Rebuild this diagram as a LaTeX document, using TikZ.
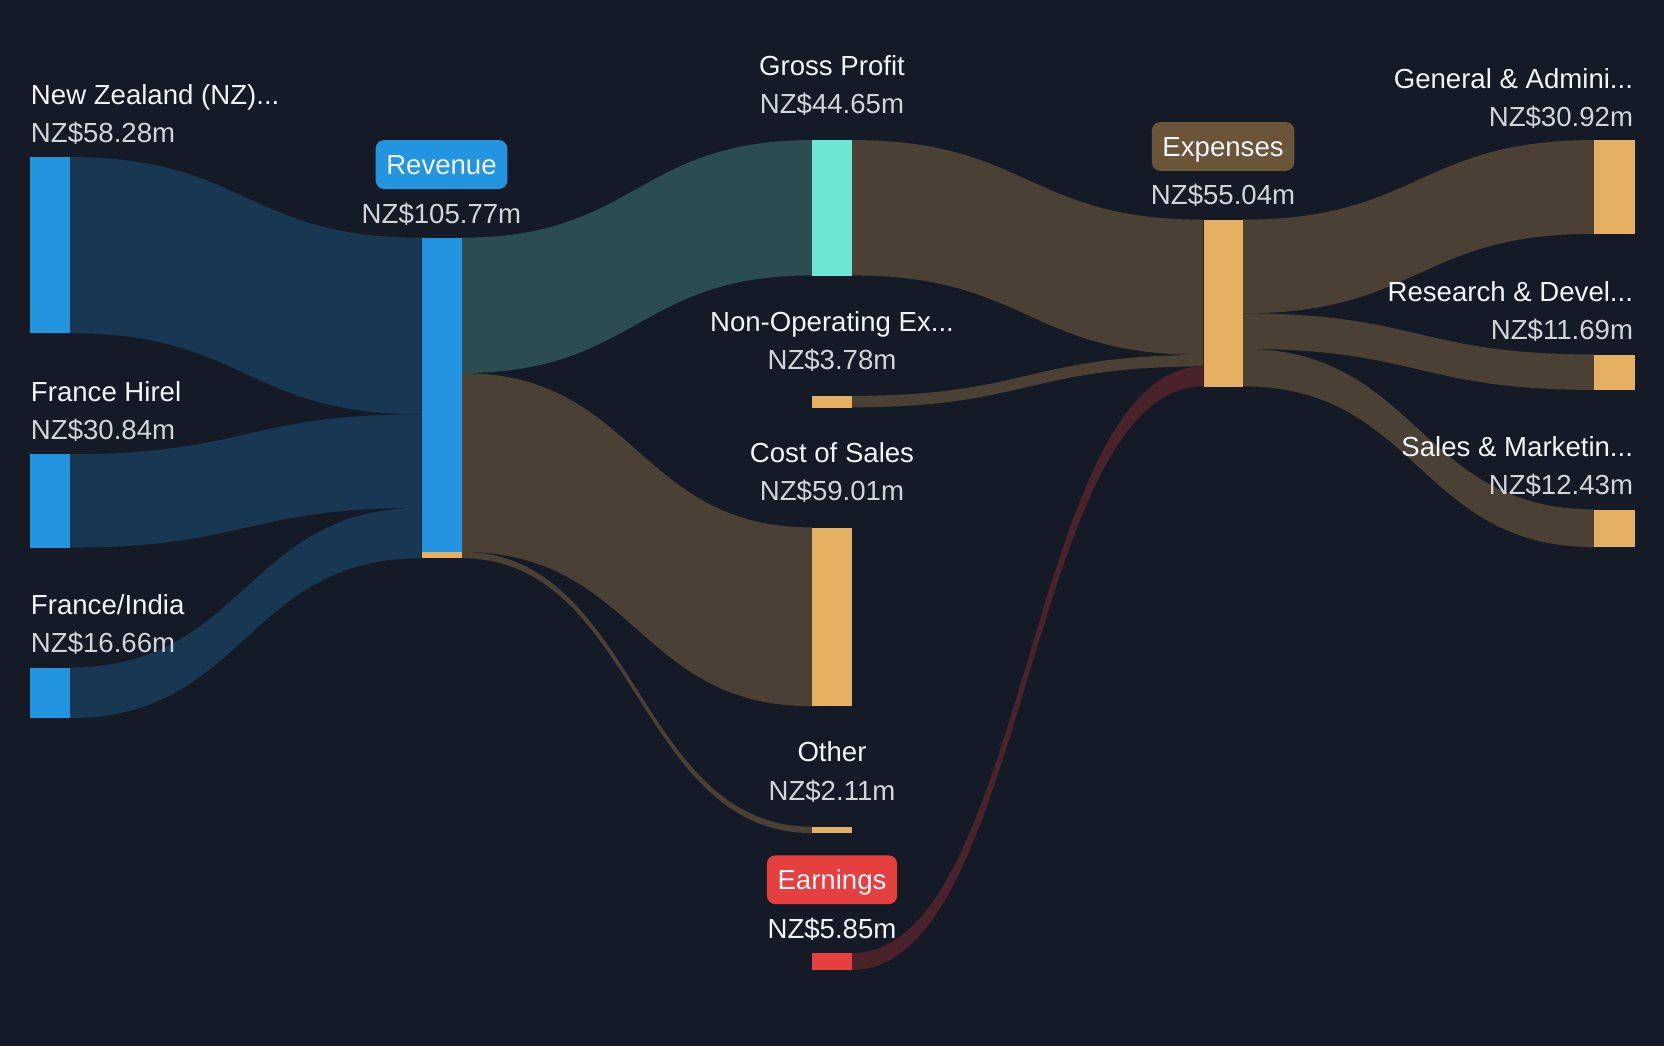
\documentclass[tikz,border=0pt]{standalone}
\usepackage{fontspec}
\setmainfont{Liberation Sans}
\definecolor{bg}{HTML}{151B26}
\definecolor{cblue}{HTML}{2394DF}
\definecolor{cteal}{HTML}{6EE6D4}
\definecolor{ctan}{HTML}{E5B062}
\definecolor{cred}{HTML}{E5403F}
\definecolor{cbrown}{HTML}{6B5539}
\definecolor{fblue}{HTML}{173752}
\definecolor{fteal}{HTML}{2C4D50}
\definecolor{ftan}{HTML}{4A4033}
\definecolor{fred}{HTML}{4A2229}
\definecolor{tname}{HTML}{F2F5FA}
\definecolor{tval}{HTML}{D2D5DA}
\newcommand\sflow[7]{%
  \pgfmathsetmacro\xm{(#1+#4)/2}%
  \fill[#7] (#1,#2) .. controls (\xm,#2) and (\xm,#5) .. (#4,#5) -- (#4,#6) .. controls (\xm,#6) and (\xm,#3) .. (#1,#3) -- cycle;}
\tikzset{
  bar/.style={rectangle, inner sep=0pt, minimum width=38pt, anchor=north west, draw=none},
  nm/.style={text=tname, inner sep=0pt},
  val/.style={text=tval, inner sep=0pt},
  pill/.style={rectangle, rounded corners=8pt, text=tname, minimum height=46pt, inner xsep=10pt, inner ysep=0pt, text height=18.5pt, text depth=0pt}
}
\begin{document}
\begin{tikzpicture}[x=1pt,y=-1pt,font=\fontsize{26}{30}\selectfont]
\fill[bg] (0,0) rectangle (1568,986);
\useasboundingbox (0,0) rectangle (1568,986);
% flows
\sflow{66}{148}{314}{397}{224}{390.4}{fblue}
\sflow{66}{428}{516}{397}{390.4}{478.5}{fblue}
\sflow{66}{629}{676.6}{397}{478.5}{526}{fblue}
\sflow{435}{224}{351.5}{765}{132}{259.5}{fteal}
\sflow{435}{351.5}{520}{765}{497}{665.5}{ftan}
\sflow{435}{520}{526}{765}{779}{785}{ftan}
\sflow{803}{132}{259.5}{1134}{207}{334.5}{ftan}
\sflow{803}{373}{383.8}{1134}{334.5}{345.3}{ftan}
\sflow{803}{898}{914}{1134}{345.3}{364}{fred}
\sflow{1171}{207}{295.3}{1502}{132}{220.3}{ftan}
\sflow{1171}{295.3}{328.7}{1502}{334}{367.4}{ftan}
\sflow{1171}{328.7}{364}{1502}{480}{515.5}{ftan}
% bars
\node[bar, fill=cblue, minimum height=166pt] (nz) at (28,148) {};
\node[bar, fill=cblue, minimum height=88pt] (fh) at (28,428) {};
\node[bar, fill=cblue, minimum height=47.6pt] (fi) at (28,629) {};
\node[bar, fill=cblue, minimum height=296pt] (rev) at (397,224) {};
\node[bar, fill=ctan, minimum height=6pt] (revo) at (397,520) {};
\node[bar, fill=cteal, minimum height=127.5pt] (gp) at (765,132) {};
\node[bar, fill=ctan, minimum height=10.8pt] (nonop) at (765,373) {};
\node[bar, fill=ctan, minimum height=168.5pt] (cos) at (765,497) {};
\node[bar, fill=ctan, minimum height=6pt] (oth) at (765,779) {};
\node[bar, fill=cred, minimum height=16pt] (earn) at (765,898) {};
\node[bar, fill=ctan, minimum height=157pt, minimum width=37pt] (exp) at (1134,207) {};
\node[bar, fill=ctan, minimum height=88.3pt] (ga) at (1502,132) {};
\node[bar, fill=ctan, minimum height=33.4pt] (rd) at (1502,334) {};
\node[bar, fill=ctan, minimum height=35.5pt] (sm) at (1502,480) {};
% left labels
\node[nm, anchor=base west] (nzn) at (29,98) {New Zealand (NZ)...};
\node[val, anchor=base west] (nzv) at (29,134) {NZ\$58.28m};
\node[nm, anchor=base west] (fhn) at (29,378) {France Hirel};
\node[val, anchor=base west] (fhv) at (29,414) {NZ\$30.84m};
\node[nm, anchor=base west] (fin) at (29,579) {France/India};
\node[val, anchor=base west] (fiv) at (29,615) {NZ\$16.66m};
% revenue
\node[pill, fill=cblue] (revl) at (416,155) {Revenue};
\node[val, anchor=base] (revv) at (416,211) {NZ\$105.77m};
% middle column
\node[nm, anchor=base] (gpn) at (784,71) {Gross Profit};
\node[val, anchor=base] (gpv) at (784,107) {NZ\$44.65m};
\node[nm, anchor=base] (nonn) at (784,312) {Non-Operating Ex...};
\node[val, anchor=base] (nonv) at (784,348) {NZ\$3.78m};
\node[nm, anchor=base] (cosn) at (784,436) {Cost of Sales};
\node[val, anchor=base] (cosv) at (784,472) {NZ\$59.01m};
\node[nm, anchor=base] (othn) at (784,718) {Other};
\node[val, anchor=base] (othv) at (784,754) {NZ\$2.11m};
\node[pill, fill=cred] (earnl) at (784,829) {Earnings};
\node[nm, anchor=base] (earnv) at (784,884) {NZ\$5.85m};
% expenses
\node[pill, fill=cbrown] (expl) at (1152.5,138) {Expenses};
\node[val, anchor=base] (expv) at (1152.5,193) {NZ\$55.04m};
% right labels
\node[nm, anchor=base east] (gan) at (1539,83) {General \& Admini...};
\node[val, anchor=base east] (gav) at (1539,119) {NZ\$30.92m};
\node[nm, anchor=base east] (rdn) at (1539,284) {Research \& Devel...};
\node[val, anchor=base east] (rdv) at (1539,320) {NZ\$11.69m};
\node[nm, anchor=base east] (smn) at (1539,430) {Sales \& Marketin...};
\node[val, anchor=base east] (smv) at (1539,466) {NZ\$12.43m};
\end{tikzpicture}
\end{document}
